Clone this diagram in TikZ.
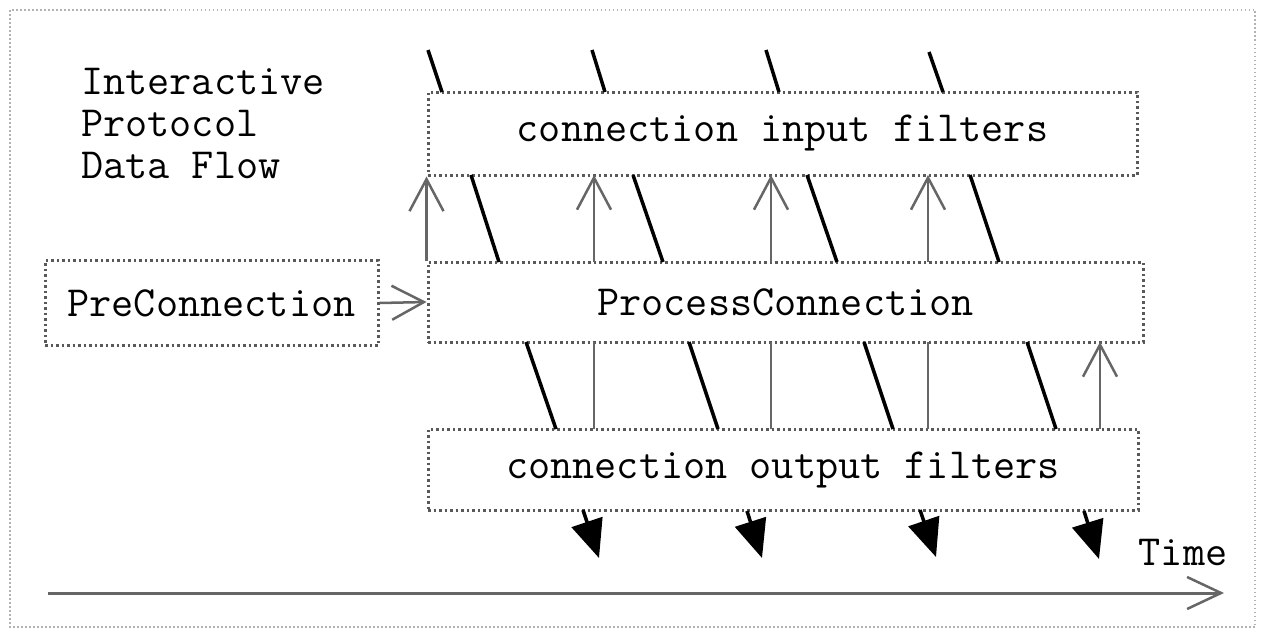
\documentclass[tikz,border=0pt]{standalone}
\usetikzlibrary{arrows.meta}
\begin{document}
\begin{tikzpicture}[x=1pt,y=-1pt,
  every node/.style={font=\ttfamily\fontsize{43}{42}\selectfont, inner sep=0pt},
  box/.style={draw=black!65, line width=3pt, dash pattern=on 2.5pt off 3pt},
  outer/.style={draw=black!30, line width=1.5pt, dash pattern=on 1.5pt off 2.5pt},
  upar/.style={draw=black!60, line width=2.5pt, -{Straight Barb[length=32pt,width=34pt,line width=2.5pt]}},
  vline/.style={draw=black!60, line width=2.5pt},
  slash/.style={draw=black, line width=3.5pt},
  outar/.style={draw=black, line width=3.5pt, -{Triangle[length=38pt,width=32pt]}},
  timear/.style={draw=black!60, line width=3pt, -{Straight Barb[length=34pt,width=32pt,line width=2.5pt]}}]
\useasboundingbox (0,0) rectangle (1263,632);
\draw[outer] (10,10) rectangle (1255,627);

\node[anchor=north west, align=left] (title) at (81,68) {Interactive\\Protocol\\Data Flow};

\node[box, minimum width=709pt, minimum height=83pt] (in) at (782.5,133.5) {connection input filters};
\node[box, minimum width=715pt, minimum height=80pt] (pc) at (785.5,302) {ProcessConnection};
\node[box, minimum width=710pt, minimum height=81pt] (out) at (783,469.5) {connection output filters};
\node[box, minimum width=333pt, minimum height=85pt] (pre) at (211.5,303) {PreConnection};

\draw[upar] (pre.east) -- (pc.west);

% up arrows process -> input
\draw[upar] (pc.north west) -- (in.south west);
\draw[upar] (594,262) -- (594,175);
\draw[upar] (771,262) -- (771,175);
\draw[upar] (928,262) -- (928,175);

% vertical lines process -> output
\draw[vline] (594,342) -- (594,429);
\draw[vline] (771,342) -- (771,429);
\draw[vline] (928,342) -- (928,429);
\draw[upar] (1100,429) -- (1100,342);

% slashes above input filters
\draw[slash] (428,50) -- (442,92);
\draw[slash] (592,50) -- (605,92);
\draw[slash] (766,50) -- (779,92);
\draw[slash] (929,52) -- (943,92);

% slashes between input and process
\draw[slash] (471,175) -- (499,262);
\draw[slash] (633,175) -- (663,262);
\draw[slash] (807,175) -- (837,262);
\draw[slash] (970,175) -- (999,262);

% slashes between process and output
\draw[slash] (526,342) -- (556,429);
\draw[slash] (689,342) -- (718,429);
\draw[slash] (864,342) -- (893,429);
\draw[slash] (1027,342) -- (1056,429);

% output arrows
\draw[outar] (583,510) -- (599,558);
\draw[outar] (747,511) -- (762,558);
\draw[outar] (920,510) -- (936,557);
\draw[outar] (1084,511) -- (1099,559);

% time axis
\coordinate (t0) at (48,593);
\coordinate (t1) at (1224,593);
\draw[timear] (t0) -- (t1);
\node (time) at (1183,552) {Time};
\end{tikzpicture}
\end{document}
